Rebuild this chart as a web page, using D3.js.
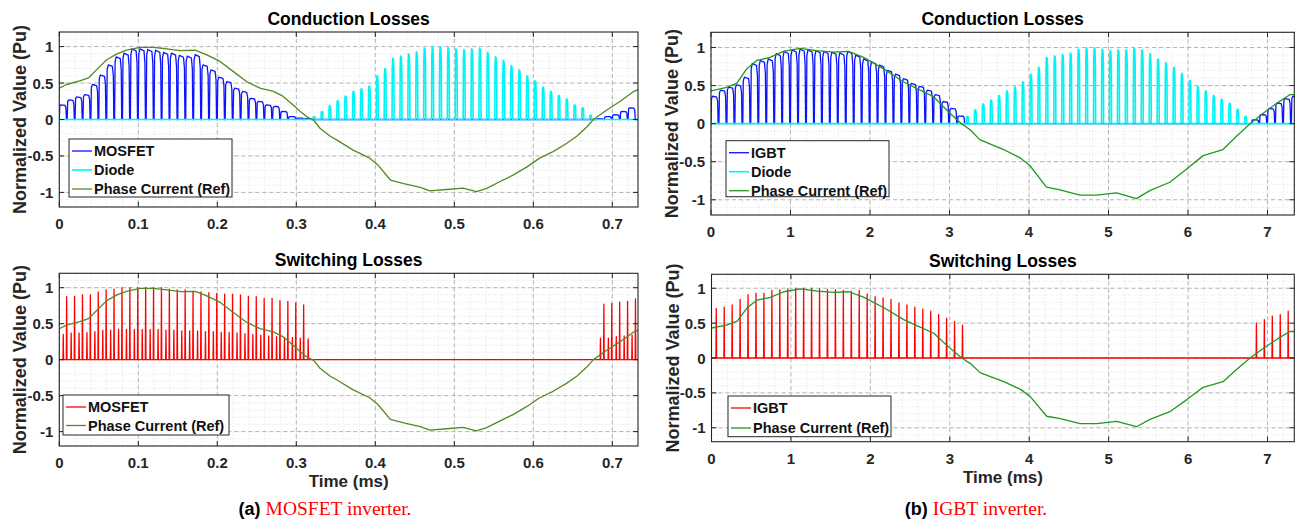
<!DOCTYPE html>
<html lang="en">
<head>
<meta charset="UTF-8" />
<title>Conduction and Switching Losses</title>
<script src="https://d3js.org/d3.v7.min.js"></script>
<style>
  body { margin: 0; background: #fff; }
  svg { display: block; font-family: "Liberation Sans", Arial, Helvetica, sans-serif; }
</style>
</head>
<body>
<svg id="svg" width="1301" height="520"></svg>
<script>
// ---------- data ----------
const yTicks = [-1, -0.5, 0, 0.5, 1];
const yTickLabels = ["-1", "-0.5", "0", "0.5", "1"];
const xTicksA = [0, 0.1, 0.2, 0.3, 0.4, 0.5, 0.6, 0.7];
const xTickLabelsA = ["0", "0.1", "0.2", "0.3", "0.4", "0.5", "0.6", "0.7"];
const xTicksB = [0, 1, 2, 3, 4, 5, 6, 7];
const xTickLabelsB = ["0", "1", "2", "3", "4", "5", "6", "7"];

const periodA = 0.01; // ms, MOSFET switching period
const periodB = 0.1;  // ms, IGBT switching period

// phase current reference (time ms, value pu)
const phaseTimeA = [0, 0.009, 0.026, 0.037, 0.047, 0.06, 0.073, 0.085, 0.102, 0.119, 0.136, 0.153, 0.172, 0.186, 0.203, 0.22, 0.237, 0.254, 0.271, 0.283, 0.296, 0.305, 0.313, 0.322, 0.33, 0.343, 0.351, 0.372, 0.393, 0.403, 0.419, 0.436, 0.457, 0.469, 0.49, 0.511, 0.528, 0.541, 0.558, 0.575, 0.592, 0.608, 0.625, 0.642, 0.655, 0.668, 0.676, 0.693, 0.71, 0.727, 0.733];
const phaseValA = [0.43, 0.48, 0.53, 0.57, 0.68, 0.82, 0.9, 0.95, 0.99, 0.99, 0.97, 0.945, 0.95, 0.89, 0.8, 0.66, 0.52, 0.43, 0.385, 0.32, 0.2, 0.11, 0.04, -0.01, -0.12, -0.23, -0.28, -0.42, -0.53, -0.62, -0.83, -0.88, -0.93, -0.98, -0.96, -0.94, -0.99, -0.945, -0.85, -0.76, -0.65, -0.53, -0.44, -0.33, -0.23, -0.1, 0, 0.13, 0.25, 0.385, 0.41];

const phaseTimeB = [0, 0.197, 0.323, 0.449, 0.575, 0.742, 0.91, 1.12, 1.33, 1.54, 1.73, 1.92, 2.17, 2.42, 2.59, 2.8, 2.92, 3.05, 3.15, 3.26, 3.38, 3.47, 3.68, 3.89, 4.01, 4.22, 4.39, 4.64, 4.85, 5.1, 5.35, 5.52, 5.77, 5.98, 6.19, 6.44, 6.61, 6.78, 6.95, 7.12, 7.28, 7.34];
const phaseValB = [0.43, 0.476, 0.53, 0.72, 0.83, 0.87, 0.95, 0.99, 0.96, 0.94, 0.95, 0.87, 0.72, 0.55, 0.46, 0.355, 0.225, 0.095, 0, -0.08, -0.21, -0.25, -0.34, -0.45, -0.55, -0.835, -0.87, -0.94, -0.94, -0.91, -0.985, -0.88, -0.77, -0.6, -0.42, -0.34, -0.165, 0, 0.14, 0.27, 0.38, 0.38];

// conduction pulse peaks, one per switching period
const mosfetCond = [0.2, 0.27, 0.31, 0.34, 0.48, 0.61, 0.75, 0.86, 0.91, 0.97,
  0.97, 0.96, 0.95, 0.92, 0.91, 0.88, 0.87, 0.89, 0.75, 0.68,
  0.58, 0.52, 0.43, 0.385, 0.29, 0.25, 0.2, 0.18, 0.11, 0.04,
  0.02, 0.01, 0, 0, 0, 0, 0, 0, 0, 0,
  0, 0, 0, 0, 0, 0, 0, 0, 0, 0,
  0, 0, 0, 0, 0, 0, 0, 0, 0, 0,
  0, 0, 0, 0, 0, 0, 0, 0, 0.01, 0.04,
  0.065, 0.11, 0.16];
const diodeCondA = [0, 0, 0, 0, 0, 0, 0, 0, 0, 0,
  0, 0, 0, 0, 0, 0, 0, 0, 0, 0,
  0, 0, 0, 0, 0, 0, 0, 0, 0, 0,
  0, 0, 0.04, 0.11, 0.19, 0.26, 0.32, 0.385, 0.42, 0.46,
  0.6, 0.7, 0.84, 0.87, 0.9, 0.93, 0.98, 1, 1, 0.99,
  0.97, 0.96, 0.97, 0.98, 0.92, 0.86, 0.81, 0.74, 0.68, 0.6,
  0.53, 0.445, 0.385, 0.33, 0.28, 0.2, 0.16, 0.06, 0, 0,
  0, 0, 0];
const igbtCond = [0.36, 0.44, 0.48, 0.51, 0.61, 0.79, 0.83, 0.85, 0.92, 0.95,
  0.97, 0.98, 0.97, 0.96, 0.95, 0.94, 0.93, 0.95, 0.9, 0.85,
  0.81, 0.77, 0.7, 0.65, 0.59, 0.53, 0.49, 0.44, 0.38, 0.29,
  0.2, 0.1, 0, 0, 0, 0, 0, 0, 0, 0,
  0, 0, 0, 0, 0, 0, 0, 0, 0, 0,
  0, 0, 0, 0, 0, 0, 0, 0, 0, 0,
  0, 0, 0, 0, 0, 0, 0, 0, 0.05, 0.12,
  0.2, 0.27, 0.33, 0.36];
const diodeCondB = [0, 0, 0, 0, 0, 0, 0, 0, 0, 0,
  0, 0, 0, 0, 0, 0, 0, 0, 0, 0,
  0, 0, 0, 0, 0, 0, 0, 0, 0, 0,
  0, 0, 0.095, 0.18, 0.26, 0.31, 0.37, 0.43, 0.48, 0.55,
  0.65, 0.74, 0.87, 0.89, 0.91, 0.93, 0.98, 1, 1, 0.98,
  0.96, 0.97, 0.97, 1, 0.97, 0.92, 0.85, 0.8, 0.74, 0.66,
  0.57, 0.49, 0.43, 0.37, 0.32, 0.27, 0.19, 0.095, 0, 0,
  0, 0, 0, 0];

// switching loss spikes, one per switching period
const mosfetSwTall = [0.875, 0.88, 0.9, 0.9, 0.94, 0.97, 0.98, 1, 1, 1,
  1, 1, 1, 0.98, 0.97, 0.97, 0.95, 0.94, 0.93, 0.92,
  0.91, 0.91, 0.9, 0.88, 0.875, 0.85, 0.85, 0.82, 0.81, 0.79,
  0.76, 0, 0, 0, 0, 0, 0, 0, 0, 0,
  0, 0, 0, 0, 0, 0, 0, 0, 0, 0,
  0, 0, 0, 0, 0, 0, 0, 0, 0, 0,
  0, 0, 0, 0, 0, 0, 0, 0, 0.77, 0.78,
  0.8, 0.81, 0.845];
const mosfetSwShort = [0.35, 0.37, 0.37, 0.375, 0.39, 0.41, 0.41, 0.42, 0.42, 0.42,
  0.42, 0.42, 0.42, 0.41, 0.41, 0.4, 0.4, 0.4, 0.39, 0.39,
  0.38, 0.38, 0.37, 0.36, 0.35, 0.34, 0.33, 0.32, 0.31, 0.31,
  0.3, 0.29, 0, 0, 0, 0, 0, 0, 0, 0,
  0, 0, 0, 0, 0, 0, 0, 0, 0, 0,
  0, 0, 0, 0, 0, 0, 0, 0, 0, 0,
  0, 0, 0, 0, 0, 0, 0, 0, 0.3, 0.3,
  0.32, 0.33, 0.34];
const igbtSw = [0.71, 0.73, 0.76, 0.84, 0.91, 0.93, 0.93, 0.97, 0.98, 0.99,
  1, 1, 1, 0.99, 0.98, 0.98, 0.97, 0.96, 0.97, 0.92,
  0.88, 0.86, 0.84, 0.79, 0.76, 0.73, 0.7, 0.67, 0.62, 0.57,
  0.52, 0.47, 0, 0, 0, 0, 0, 0, 0, 0,
  0, 0, 0, 0, 0, 0, 0, 0, 0, 0,
  0, 0, 0, 0, 0, 0, 0, 0, 0, 0,
  0, 0, 0, 0, 0, 0, 0, 0, 0.5, 0.55,
  0.6, 0.62, 0.67, 0];

// ---------- drawing ----------
const svg = d3.select("svg");
const ink = "#262626";
const green1 = "#548a24", green2 = "#1f9a1f";
const blue = "#0a14ff", cyan = "#00f4f4", red = "#ff0000";

// pulse shapes inside one switching period (fraction of period, fraction of peak)
const condShape = [[0, 0], [0.06, 0.92], [0.2, 1], [0.72, 0.97], [0.84, 0.8], [0.9, 0]];
const diodeShape = [[0.12, 0], [0.15, 0.85], [0.2, 1], [0.3, 0.98], [0.35, 0.8], [0.38, 0]];

function pulseTrain(peaks, period, shape, end) {
  const pts = [[0, 0]];
  peaks.forEach((h, k) => {
    shape.forEach(([f, r]) => pts.push([(k + f) * period, h * r]));
  });
  pts.push([end, 0]);
  return pts;
}

function spikeTrain(series, period, half, end) {
  const pts = [[0, 0]];
  const n = d3.max(series, (s) => s.peaks.length);
  for (let k = 0; k < n; k++) {
    series.forEach((s) => {
      const h = s.peaks[k];
      if (h > 0) {
        const c = (k + s.at) * period;
        pts.push([c - half * period, 0], [c, h], [c + half * period, 0]);
      }
    });
  }
  pts.push([end, 0]);
  return pts;
}

function drawPanel(p) {
  const x = d3.scaleLinear().domain(p.xDomain).range([p.left, p.right]);
  const y = d3.scaleLinear().domain([-1.2, 1.2]).range([p.bottom, p.top]);
  const g = svg.append("g");

  const clipId = "clip" + p.id;
  svg.append("clipPath").attr("id", clipId)
    .append("rect")
    .attr("x", p.left).attr("y", p.top)
    .attr("width", p.right - p.left).attr("height", p.bottom - p.top);

  // minor grid
  const xMinor = d3.range(0, p.xDomain[1], p.minorStep);
  const yMinor = d3.range(-1.2, 1.21, 0.1);
  g.append("g").selectAll("line").data(xMinor).join("line")
    .attr("x1", (d) => x(d)).attr("x2", (d) => x(d))
    .attr("y1", p.top).attr("y2", p.bottom)
    .attr("stroke", "#dcdcdc").attr("stroke-width", 0.8)
    .attr("stroke-dasharray", "1,2");
  g.append("g").selectAll("line").data(yMinor).join("line")
    .attr("x1", p.left).attr("x2", p.right)
    .attr("y1", (d) => y(d)).attr("y2", (d) => y(d))
    .attr("stroke", "#dcdcdc").attr("stroke-width", 0.8)
    .attr("stroke-dasharray", "1,2");

  // major grid
  g.append("g").selectAll("line").data(p.xTicks).join("line")
    .attr("x1", (d) => x(d)).attr("x2", (d) => x(d))
    .attr("y1", p.top).attr("y2", p.bottom)
    .attr("stroke", "#b4b4b4").attr("stroke-width", 1)
    .attr("stroke-dasharray", "4,3");
  g.append("g").selectAll("line").data(yTicks).join("line")
    .attr("x1", p.left).attr("x2", p.right)
    .attr("y1", (d) => y(d)).attr("y2", (d) => y(d))
    .attr("stroke", "#b4b4b4").attr("stroke-width", 1)
    .attr("stroke-dasharray", "4,3");

  // series
  const line = d3.line().x((d) => x(d[0])).y((d) => y(d[1]));
  const plot = g.append("g").attr("clip-path", `url(#${clipId})`);
  p.series.forEach((s) => {
    plot.append("path")
      .datum(s.points)
      .attr("fill", "none")
      .attr("stroke", s.color)
      .attr("stroke-width", s.width)
      .attr("stroke-linejoin", "round")
      .attr("d", line);
  });

  // box and inward ticks
  g.append("rect")
    .attr("x", p.left).attr("y", p.top)
    .attr("width", p.right - p.left).attr("height", p.bottom - p.top)
    .attr("fill", "none").attr("stroke", ink).attr("stroke-width", 1.1);
  const tl = 5;
  p.xTicks.forEach((t) => {
    g.append("line").attr("x1", x(t)).attr("x2", x(t))
      .attr("y1", p.bottom).attr("y2", p.bottom - tl).attr("stroke", ink);
    g.append("line").attr("x1", x(t)).attr("x2", x(t))
      .attr("y1", p.top).attr("y2", p.top + tl).attr("stroke", ink);
  });
  yTicks.forEach((t) => {
    g.append("line").attr("x1", p.left).attr("x2", p.left + tl)
      .attr("y1", y(t)).attr("y2", y(t)).attr("stroke", ink);
    g.append("line").attr("x1", p.right).attr("x2", p.right - tl)
      .attr("y1", y(t)).attr("y2", y(t)).attr("stroke", ink);
  });

  // tick labels
  g.append("g").selectAll("text").data(p.xTicks).join("text")
    .attr("x", (d) => x(d)).attr("y", p.bottom + 22)
    .attr("text-anchor", "middle")
    .attr("font-size", 15).attr("font-weight", "bold").attr("fill", ink)
    .text((d, i) => p.xTickLabels[i]);
  g.append("g").selectAll("text").data(yTicks).join("text")
    .attr("x", p.left - 6).attr("y", (d) => y(d) + 5.5)
    .attr("text-anchor", "end")
    .attr("font-size", 15).attr("font-weight", "bold").attr("fill", ink)
    .text((d, i) => yTickLabels[i]);

  // title and axis labels
  const cx = (p.left + p.right) / 2;
  g.append("text").attr("x", cx).attr("y", p.top - 7)
    .attr("text-anchor", "middle")
    .attr("font-size", 17.5).attr("font-weight", "bold").attr("fill", "#000")
    .text(p.title);
  g.append("text")
    .attr("transform", `translate(${p.left - 33},${(p.top + p.bottom) / 2}) rotate(-90)`)
    .attr("text-anchor", "middle")
    .attr("font-size", 18).attr("font-weight", "bold").attr("fill", ink)
    .text("Normalized Value (Pu)");
  if (p.xLabel) {
    g.append("text").attr("x", cx).attr("y", p.bottom + 41)
      .attr("text-anchor", "middle")
      .attr("font-size", 17).attr("font-weight", "bold").attr("fill", ink)
      .text(p.xLabel);
  }

  // legend
  const L = p.legend;
  const lg = g.append("g");
  lg.append("rect")
    .attr("x", L.x).attr("y", L.y).attr("width", L.w).attr("height", L.h)
    .attr("fill", "#fff").attr("stroke", ink).attr("stroke-width", 1);
  p.series.forEach((s, i) => {
    const cy = L.y + 12 + i * L.row;
    lg.append("line")
      .attr("x1", L.x + 3).attr("x2", L.x + 23)
      .attr("y1", cy).attr("y2", cy)
      .attr("stroke", s.color).attr("stroke-width", s.width);
    lg.append("text")
      .attr("x", L.x + 25).attr("y", cy + 5)
      .attr("font-size", 14.5).attr("font-weight", "bold").attr("fill", "#111")
      .text(s.name);
  });
}

const endA = 0.7325, endB = 7.337;
const phaseA = phaseTimeA.map((t, i) => [t, phaseValA[i]]);
const phaseB = phaseTimeB.map((t, i) => [t, phaseValB[i]]);

drawPanel({
  id: "a1", left: 59.3, right: 638, top: 32, bottom: 207,
  xDomain: [0, endA], xTicks: xTicksA, xTickLabels: xTickLabelsA, minorStep: 0.02,
  title: "Conduction Losses",
  legend: { x: 69, y: 139, w: 163, h: 58, row: 19 },
  series: [
    { name: "MOSFET", color: blue, width: 1.3, points: pulseTrain(mosfetCond, periodA, condShape, endA) },
    { name: "Diode", color: cyan, width: 1.6, points: pulseTrain(diodeCondA, periodA, diodeShape, endA) },
    { name: "Phase Current (Ref)", color: green1, width: 1.3, points: phaseA }
  ]
});

drawPanel({
  id: "a2", left: 59.3, right: 638, top: 273.3, bottom: 446,
  xDomain: [0, endA], xTicks: xTicksA, xTickLabels: xTickLabelsA, minorStep: 0.02,
  title: "Switching Losses", xLabel: "Time (ms)",
  legend: { x: 63, y: 395, w: 166, h: 40, row: 18.5 },
  series: [
    { name: "MOSFET", color: red, width: 1.3,
      points: spikeTrain([{ peaks: mosfetSwShort, at: 0.5 }, { peaks: mosfetSwTall, at: 0.93 }], periodA, 0.04, endA) },
    { name: "Phase Current (Ref)", color: green1, width: 1.3, points: phaseA }
  ]
});

drawPanel({
  id: "b1", left: 711, right: 1294.3, top: 32.3, bottom: 215,
  xDomain: [0, endB], xTicks: xTicksB, xTickLabels: xTickLabelsB, minorStep: 0.2,
  title: "Conduction Losses",
  legend: { x: 726, y: 140.7, w: 163, h: 56, row: 19 },
  series: [
    { name: "IGBT", color: blue, width: 1.3, points: pulseTrain(igbtCond, periodB, condShape, endB) },
    { name: "Diode", color: cyan, width: 1.6, points: pulseTrain(diodeCondB, periodB, diodeShape, endB) },
    { name: "Phase Current (Ref)", color: green2, width: 1.3, points: phaseB }
  ]
});

drawPanel({
  id: "b2", left: 711.5, right: 1294.3, top: 274.3, bottom: 441.7,
  xDomain: [0, endB], xTicks: xTicksB, xTickLabels: xTickLabelsB, minorStep: 0.2,
  title: "Switching Losses", xLabel: "Time (ms)",
  legend: { x: 728, y: 396, w: 163, h: 40.7, row: 20 },
  series: [
    { name: "IGBT", color: red, width: 1.3,
      points: spikeTrain([{ peaks: igbtSw, at: 0.6 }], periodB, 0.04, endB) },
    { name: "Phase Current (Ref)", color: green2, width: 1.3, points: phaseB }
  ]
});

// sub-figure captions
function caption(cx, tag, text) {
  const t = svg.append("text").attr("x", cx).attr("y", 515).attr("text-anchor", "middle");
  t.append("tspan").attr("font-size", 18).attr("font-weight", "bold").attr("fill", "#000")
    .text(tag + " ");
  t.append("tspan").attr("font-family", "'Liberation Serif', 'Times New Roman', serif")
    .attr("font-size", 19.5).attr("fill", "#ff0000").text(text);
}
caption(325, "(a)", "MOSFET inverter.");
caption(976, "(b)", "IGBT inverter.");
</script>
</body>
</html>
